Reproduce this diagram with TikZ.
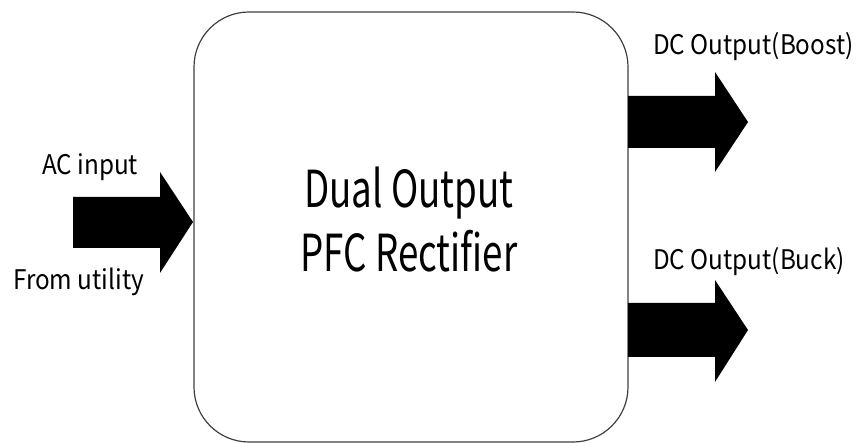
\documentclass[tikz,border=0pt]{standalone}
\usepackage{fontspec}
\setmainfont{Noto Sans CJK KR}
\newfontfamily\lblfont[FakeStretch=0.9]{Noto Sans CJK KR}
\newfontfamily\bigfont[FakeStretch=0.72]{Noto Sans CJK KR}
\begin{document}
\begin{tikzpicture}[x=1pt,y=1pt,
  lbl/.style={inner sep=0pt, font=\lblfont\fontsize{27}{30}\selectfont},
  big/.style={inner sep=0pt, font=\bigfont\fontsize{51}{64}\selectfont},
  blockarrow/.style={fill=black, draw=none},
  boxline/.style={draw=black!75, line width=1.2pt, rounded corners=55pt}]
\useasboundingbox (0,0) rectangle (857,443);
% main box
\draw[boxline] (194,1) rectangle (628,431);
\node[big, anchor=base] (t1) at (409,235) {Dual Output};
\node[big, anchor=base] (t2) at (409,171) {PFC Rectifier};
% input arrow
\fill[blockarrow] (73,246) -- (160,246) -- (160,271) -- (193,221) -- (160,170) -- (160,195) -- (73,195) -- cycle;
\node[lbl, anchor=base west] (ac) at (42,268) {AC input};
\node[lbl, anchor=base west] (fu) at (13,153) {From utility};
% boost arrow
\fill[blockarrow] (628,347) -- (715,347) -- (715,371) -- (748,321) -- (715,271) -- (715,295) -- (628,295) -- cycle;
\node[lbl, anchor=base west] (boost) at (653,388) {DC Output(Boost)};
% buck arrow
\fill[blockarrow] (628,140) -- (715,140) -- (715,163) -- (748,113) -- (715,61) -- (715,86) -- (628,86) -- cycle;
\node[lbl, anchor=base west] (buck) at (653,173) {DC Output(Buck)};
\end{tikzpicture}
\end{document}
